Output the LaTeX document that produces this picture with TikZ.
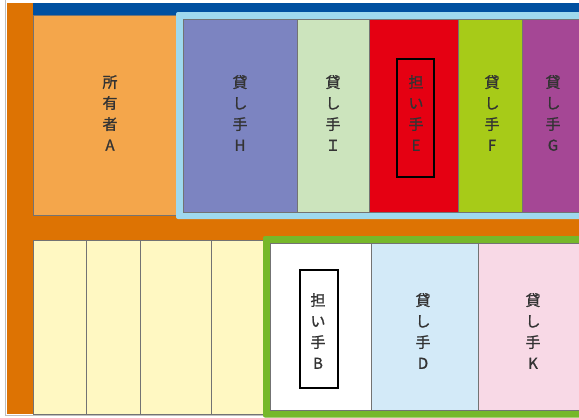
\documentclass[tikz,border=0pt]{standalone}
\usepackage{fontspec}
\newfontfamily\jp[FakeBold=1.2]{Noto Sans CJK JP}
\definecolor{frameor}{HTML}{DD7303}
\definecolor{colA}{HTML}{F4A64B}
\definecolor{topblue}{HTML}{0050A0}
\definecolor{lblue}{HTML}{9FD9EE}
\definecolor{colH}{HTML}{7C84C1}
\definecolor{colI}{HTML}{CCE4BD}
\definecolor{colE}{HTML}{E50012}
\definecolor{colF}{HTML}{A7CB18}
\definecolor{colG}{HTML}{A54795}
\definecolor{colY}{HTML}{FFF8C2}
\definecolor{lgreen}{HTML}{76B82A}
\definecolor{colD}{HTML}{D3EAF8}
\definecolor{colK}{HTML}{F8D9E6}
\begin{document}
\begin{tikzpicture}[x=1pt,y=-1pt,
  lbl/.style={font=\jp\fontsize{15}{21}\selectfont, align=center, text=black!80, inner sep=0pt, anchor=center},
  pan/.style={draw=black!55, line width=0.7pt},
  tagbox/.style={draw=black, line width=1.3pt, inner sep=0pt}]
\useasboundingbox (0,0) rectangle (579,418);
\fill[white] (0,0) rectangle (579,418);
\draw[black!25, line width=0.6pt] (5,0) -- (5,415.5) -- (579,415.5);
% orange frame
\fill[frameor] (7,3) rectangle (579,414);
\fill[topblue] (33,3) rectangle (579,15);
% owner A
\filldraw[pan, fill=colA] (33,15) rectangle (180,215);
% light-blue frame with lenders
\fill[lblue, rounded corners=2pt] (176,12) rectangle (592,219);
\filldraw[pan, fill=colH] (183,19) rectangle (297,212);
\filldraw[pan, fill=colI] (297,19) rectangle (369,212);
\filldraw[pan, fill=colE] (369,19) rectangle (458,212);
\filldraw[pan, fill=colF] (458,19) rectangle (522,212);
\filldraw[pan, fill=colG] (522,19) rectangle (592,212);
% lower row: yellow plots
\filldraw[pan, fill=colY] (33,240) rectangle (86,414);
\filldraw[pan, fill=colY] (86,240) rectangle (140,414);
\filldraw[pan, fill=colY] (140,240) rectangle (211,414);
\filldraw[pan, fill=colY] (211,240) rectangle (268,414);
% green frame
\fill[lgreen, rounded corners=2pt] (263,236) rectangle (592,417.5);
\filldraw[pan, fill=white] (270,243) rectangle (371,410.5);
\filldraw[pan, fill=colD] (371,243) rectangle (478,410.5);
\filldraw[pan, fill=colK] (478,243) rectangle (592,410.5);
% labels
\node[lbl] (A) at (110,113) {所\\有\\者\\A};
\node[lbl] (H) at (240,113) {貸\\し\\手\\H};
\node[lbl] (I) at (333,113) {貸\\し\\手\\Ｉ};
\node[tagbox, minimum width=37, minimum height=118] (Ebox) at (415.5,118) {};
\node[lbl] (E) at (416,113) {担\\い\\手\\E};
\node[lbl] (F) at (492,113) {貸\\し\\手\\F};
\node[lbl] (G) at (553,113) {貸\\し\\手\\G};
\node[tagbox, minimum width=38, minimum height=118] (Bbox) at (319,329) {};
\node[lbl] (B) at (318,331) {担\\い\\手\\B};
\node[lbl] (D) at (423,331) {貸\\し\\手\\D};
\node[lbl] (K) at (533,331) {貸\\し\\手\\K};
\end{tikzpicture}
\end{document}
